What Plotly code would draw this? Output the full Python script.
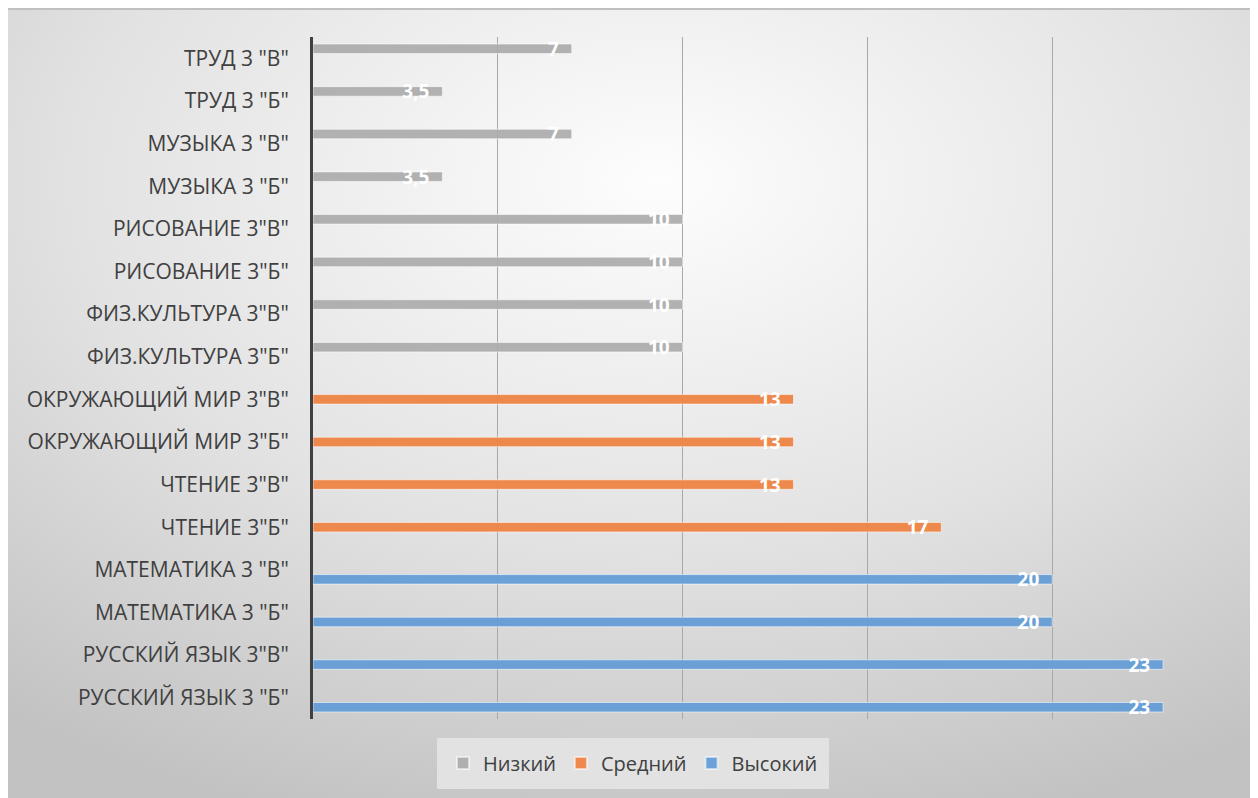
import base64
import plotly.graph_objects as go

# Categories, bottom to top
categories = [
    'РУССКИЙ ЯЗЫК 3 "Б"', 'РУССКИЙ ЯЗЫК 3"В"',
    'МАТЕМАТИКА 3 "Б"', 'МАТЕМАТИКА 3 "В"',
    'ЧТЕНИЕ 3"Б"', 'ЧТЕНИЕ 3"В"',
    'ОКРУЖАЮЩИЙ МИР 3"Б"', 'ОКРУЖАЮЩИЙ МИР 3"В"',
    'ФИЗ.КУЛЬТУРА 3"Б"', 'ФИЗ.КУЛЬТУРА 3"В"',
    'РИСОВАНИЕ 3"Б"', 'РИСОВАНИЕ 3"В"',
    'МУЗЫКА 3 "Б"', 'МУЗЫКА 3 "В"',
    'ТРУД 3 "Б"', 'ТРУД 3 "В"',
]
high = [23, 23, 20, 20, None, None, None, None, None, None, None, None, None, None, None, None]
mid = [None, None, None, None, 17, 13, 13, 13, None, None, None, None, None, None, None, None]
low = [None, None, None, None, None, None, None, None, 10, 10, 10, 10, 3.5, 7, 3.5, 7]

series = [
    ("Высокий", high, "rgba(101,157,214,0.95)"),
    ("Средний", mid, "rgba(237,132,68,0.95)"),
    ("Низкий", low, "rgba(170,170,170,0.9)"),
]

def fmt(v):
    if v is None:
        return ""
    return ("%g" % v).replace(".", ",") + "\u00a0\u00a0"

fig = go.Figure()
for name, vals, color in series:
    fig.add_trace(go.Bar(
        y=categories, x=vals, name=name, orientation="h",
        marker=dict(color=color, line=dict(color="rgba(255,255,255,0.55)", width=1)),
        text=[fmt(v) for v in vals], textposition="inside", insidetextanchor="end",
        textangle=0, constraintext="none", cliponaxis=False,
        textfont=dict(color="white", size=19, family="Open Sans", weight="bold"),
        hoverinfo="skip",
    ))

FW, FH = 1250, 790
ML, MR, MT, MB = 305, 21, 29, 79
PW, PH = FW - ML - MR, FH - MT - MB

svg = (
    '<svg xmlns="http://www.w3.org/2000/svg" width="1250" height="790" preserveAspectRatio="none" viewBox="0 0 1250 790">'
    '<defs><radialGradient id="g" cx="0.52" cy="0.22" r="0.85" gradientUnits="objectBoundingBox">'
    '<stop offset="0" stop-color="#fdfdfd"/><stop offset="0.55" stop-color="#e2e2e2"/>'
    '<stop offset="1" stop-color="#c2c2c2"/></radialGradient></defs>'
    '<rect x="0" y="0" width="1250" height="790" fill="url(#g)"/>'
    '<line x1="0" y1="1" x2="1250" y2="1" stroke="#c0c0c0" stroke-width="2"/></svg>'
)
src = "data:image/svg+xml;base64," + base64.b64encode(svg.encode()).decode()

fig.update_layout(
    width=FW, height=FH,
    margin=dict(l=ML, r=MR, t=MT, b=MB, pad=0),
    barmode="group", bargap=0.33, bargroupgap=0,
    paper_bgcolor="#d9d9d9", plot_bgcolor="rgba(0,0,0,0)",
    font=dict(family="Open Sans", color="#404040"),
    images=[dict(source=src, xref="paper", yref="paper",
                 x=-ML / PW, y=1 + MT / PH, sizex=FW / PW, sizey=FH / PH,
                 xanchor="left", yanchor="top", sizing="stretch", layer="below")],
    xaxis=dict(range=[0, 25], dtick=5, showticklabels=False, showgrid=True,
               gridcolor="#a8a8a8", gridwidth=1, zeroline=False, showline=False,
               fixedrange=True),
    yaxis=dict(type="category", categoryorder="array", categoryarray=categories,
               showline=True, linecolor="#404040", linewidth=3, ticks="",
               tickfont=dict(size=21, family="Open Sans", color="#404040"),
               ticklabelstandoff=17, showgrid=False, fixedrange=True),
    legend=dict(orientation="h", traceorder="reversed", xref="container", x=0.5,
                xanchor="center", yref="container", y=0.012, yanchor="bottom",
                bgcolor="#e2e2e2", bordercolor="#e2e2e2", borderwidth=6,
                font=dict(size=20, color="#404040"),
                itemsizing="constant", itemwidth=30),
    showlegend=True,
)

fig.write_html("out.html", config={"displayModeBar": False})
